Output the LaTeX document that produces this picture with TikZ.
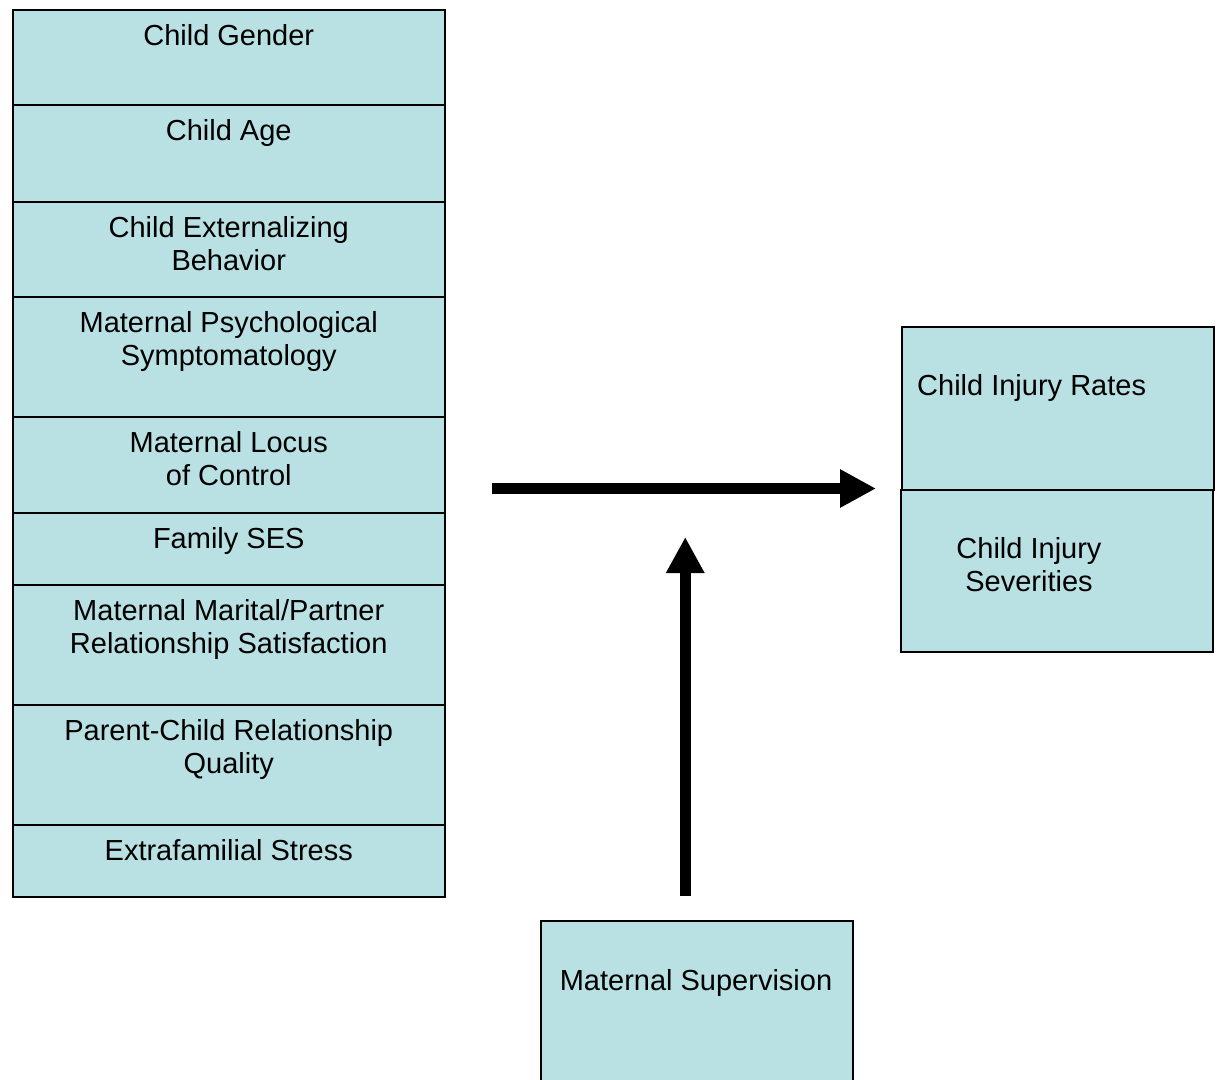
\documentclass[tikz,border=0pt]{standalone}
\usepackage{fontspec}
\setmainfont{Liberation Sans}
\usetikzlibrary{arrows.meta}
\definecolor{boxfill}{RGB}{185,224,227}
\tikzset{
  box/.style={draw=black, line width=1.5pt, fill=boxfill, rectangle, inner sep=0pt, anchor=north west},
  lbl/.style={font=\fontsize{29}{33}\selectfont, align=center, inner sep=0pt, anchor=north},
  bigarrow/.style={line width=11pt, -{Triangle[length=36pt,width=36pt]}}
}
\begin{document}
\begin{tikzpicture}[x=1pt,y=-1pt]
\clip (0,0) rectangle (1218,1079);
\useasboundingbox (0,0) rectangle (1218,1079);
% left column
\node[box, minimum width=432pt, minimum height=95pt] (b1) at (12,9) {};
\node[box, minimum width=432pt, minimum height=97pt] (b2) at (12,104) {};
\node[box, minimum width=432pt, minimum height=95pt] (b3) at (12,201) {};
\node[box, minimum width=432pt, minimum height=120pt] (b4) at (12,296) {};
\node[box, minimum width=432pt, minimum height=96pt] (b5) at (12,416) {};
\node[box, minimum width=432pt, minimum height=72pt] (b6) at (12,512) {};
\node[box, minimum width=432pt, minimum height=120pt] (b7) at (12,584) {};
\node[box, minimum width=432pt, minimum height=120pt] (b8) at (12,704) {};
\node[box, minimum width=432pt, minimum height=72pt] (b9) at (12,824) {};
\node[lbl] (t1) at ([yshift=-15.2pt]b1.north) {Child Gender};
\node[lbl] (t2) at ([yshift=-15.2pt]b2.north) {Child Age};
\node[lbl] (t3) at ([yshift=-15.2pt]b3.north) {Child Externalizing\\Behavior};
\node[lbl] (t4) at ([yshift=-15.2pt]b4.north) {Maternal Psychological\\Symptomatology};
\node[lbl] (t5) at ([yshift=-15.2pt]b5.north) {Maternal Locus\\of Control};
\node[lbl] (t6) at ([yshift=-15.2pt]b6.north) {Family SES};
\node[lbl] (t7) at ([yshift=-15.2pt]b7.north) {Maternal Marital/Partner\\Relationship Satisfaction};
\node[lbl] (t8) at ([yshift=-15.2pt]b8.north) {Parent-Child Relationship\\Quality};
\node[lbl] (t9) at ([yshift=-15.2pt]b9.north) {Extrafamilial Stress};
% right boxes
\node[box, minimum width=312pt, minimum height=163pt] (rates) at (901,326) {};
\node[box, minimum width=312pt, minimum height=162pt] (sev) at (900,489) {};
\node[lbl, anchor=north west] (trates) at (917,374.7) {Child Injury Rates};
\node[lbl] (tsev) at (1029,537.7) {Child Injury\\Severities};
% supervision
\node[box, minimum width=312pt, minimum height=200pt] (sup) at (540,920) {};
\node[lbl] (tsup) at (696,969.7) {Maternal Supervision};
% arrows
\coordinate (hstart) at (492,488.5);
\coordinate (hend) at ([xshift=-24pt]sev.north west);
\coordinate (vstart) at ([xshift=-11.5pt,yshift=24pt]sup.north);
\coordinate (vend) at (684.5,537);
\draw[bigarrow] (hstart) -- (hstart -| hend);
\draw[bigarrow] (vstart) -- (vstart |- vend);
\end{tikzpicture}
\end{document}
